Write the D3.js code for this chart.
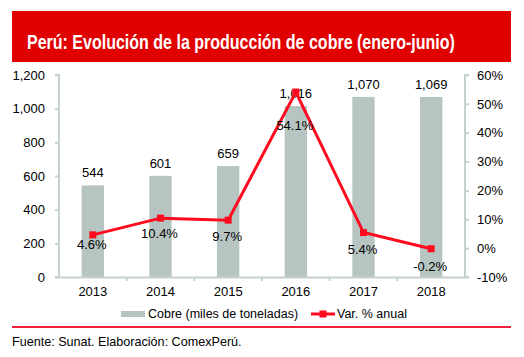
<!DOCTYPE html>
<html><head><meta charset="utf-8">
<script src="https://cdn.jsdelivr.net/npm/d3@7"></script>
<style>
body{margin:0;background:#fff;}
svg{display:block;font-family:"Liberation Sans",Arial,sans-serif;}
</style></head>
<body>
<svg id="c" width="524" height="357"></svg>
<script>
const years = ["2013","2014","2015","2016","2017","2018"];
const cobre = [544, 601, 659, 1016, 1070, 1069];
const varAnual = [4.6, 10.4, 9.7, 54.1, 5.4, -0.2];
const leftTicks = [0, 200, 400, 600, 800, 1000, 1200];
const rightTicks = [-10, 0, 10, 20, 30, 40, 50, 60];
const title = "Perú: Evolución de la producción de cobre (enero-junio)";
const legendBar = "Cobre (miles de toneladas)";
const legendLine = "Var. % anual";
const source = "Fuente: Sunat. Elaboración: ComexPerú.";

const svg = d3.select("#c");
const L = 59, R = 465, T = 75, B = 277;
const axisCol = "#c5d1cd", barCol = "#b6c5c1", red = "#ff0a1e";

// header
svg.append("rect").attr("x",12).attr("y",11).attr("width",499).attr("height",51).attr("fill","#e10000");
const tt = svg.append("text").attr("x",0).attr("y",0).attr("fill","#fff").attr("font-size",20).attr("font-weight","bold").text(title);
const natural = tt.node().getComputedTextLength();
tt.attr("transform",`translate(27,49) scale(${428/natural},1)`);

const x = d3.scaleBand().domain(years).range([L,R]).paddingInner(0.67).paddingOuter(0.335);
const xb = d3.scaleBand().domain(years).range([L,R]);
const yL = d3.scaleLinear().domain([0,1200]).range([B,T]);
const yR = d3.scaleLinear().domain([-10,60]).range([B,T]);

// bars
svg.selectAll(".bar").data(cobre).enter().append("rect")
  .attr("x",(d,i)=>x(years[i])).attr("width",x.bandwidth())
  .attr("y",d=>yL(d)).attr("height",d=>B-yL(d)).attr("fill",barCol);

// axes
const fmt = d3.format(",");
const gL = svg.append("g").attr("transform",`translate(${L},0)`)
  .call(d3.axisLeft(yL).tickValues(leftTicks).tickFormat(fmt).tickSize(4).tickPadding(10));
const gR = svg.append("g").attr("transform",`translate(${R},0)`)
  .call(d3.axisRight(yR).tickValues(rightTicks).tickFormat(d=>d+"%").tickSize(4).tickPadding(8));
const gX = svg.append("g").attr("transform",`translate(0,${B})`)
  .call(d3.axisBottom(xb).tickSize(0).tickPadding(10));
// band-boundary ticks
svg.append("g").selectAll("line").data(years.slice(1)).enter().append("line")
  .attr("x1",d=>xb(d)).attr("x2",d=>xb(d)).attr("y1",B).attr("y2",B+4).attr("stroke",axisCol).attr("stroke-width",2);
[gL,gR,gX].forEach(g=>{
  g.selectAll("path,line").attr("stroke",axisCol).attr("stroke-width",2);
  g.selectAll("text").attr("fill","#000").attr("font-size",13).attr("font-family","'Liberation Sans',Arial,sans-serif");
});
gX.select(".domain").attr("d",`M${L},0.5H${R}`);
gL.select(".domain").attr("d",`M-4,${T}H0V${B}H-4`);
gR.select(".domain").attr("d",`M4,${T}H0V${B}H4`);

// bar labels
svg.selectAll(".bl").data(cobre).enter().append("text")
  .attr("x",(d,i)=>x(years[i])+x.bandwidth()/2).attr("y",d=>yL(d)-8)
  .attr("text-anchor","middle").attr("font-size",13).text(d=>fmt(d));

// line
const cx = (d,i)=>x(years[i])+x.bandwidth()/2;
svg.append("path").datum(varAnual)
  .attr("d",d3.line().x(cx).y(d=>yR(d))).attr("fill","none").attr("stroke",red).attr("stroke-width",3);
svg.selectAll(".mk").data(varAnual).enter().append("rect")
  .attr("x",(d,i)=>cx(d,i)-3.5).attr("y",d=>yR(d)-3.5).attr("width",7).attr("height",7).attr("fill",red);
const labelDy = [14, 20, 21, 38, 21, 22];
svg.selectAll(".ll").data(varAnual).enter().append("text")
  .attr("x",(d,i)=>cx(d,i)-1).attr("y",(d,i)=>yR(d)+labelDy[i])
  .attr("text-anchor","middle").attr("font-size",13).text(d=>d.toFixed(1)+"%");

// legend
svg.append("rect").attr("x",121).attr("y",311).attr("width",24).attr("height",6).attr("fill",barCol);
svg.append("text").attr("x",148).attr("y",318).attr("font-size",12.5).text(legendBar);
svg.append("line").attr("x1",311).attr("x2",335).attr("y1",314).attr("y2",314).attr("stroke",red).attr("stroke-width",3);
svg.append("rect").attr("x",319.5).attr("y",310.5).attr("width",7).attr("height",7).attr("fill",red);
svg.append("text").attr("x",337).attr("y",318).attr("font-size",12.5).text(legendLine);

// separator & source
svg.append("line").attr("x1",12).attr("x2",511).attr("y1",327).attr("y2",327).attr("stroke","#f0203a").attr("stroke-width",2);
svg.append("text").attr("x",12).attr("y",346).attr("font-size",12.6).text(source);
</script>
</body></html>
